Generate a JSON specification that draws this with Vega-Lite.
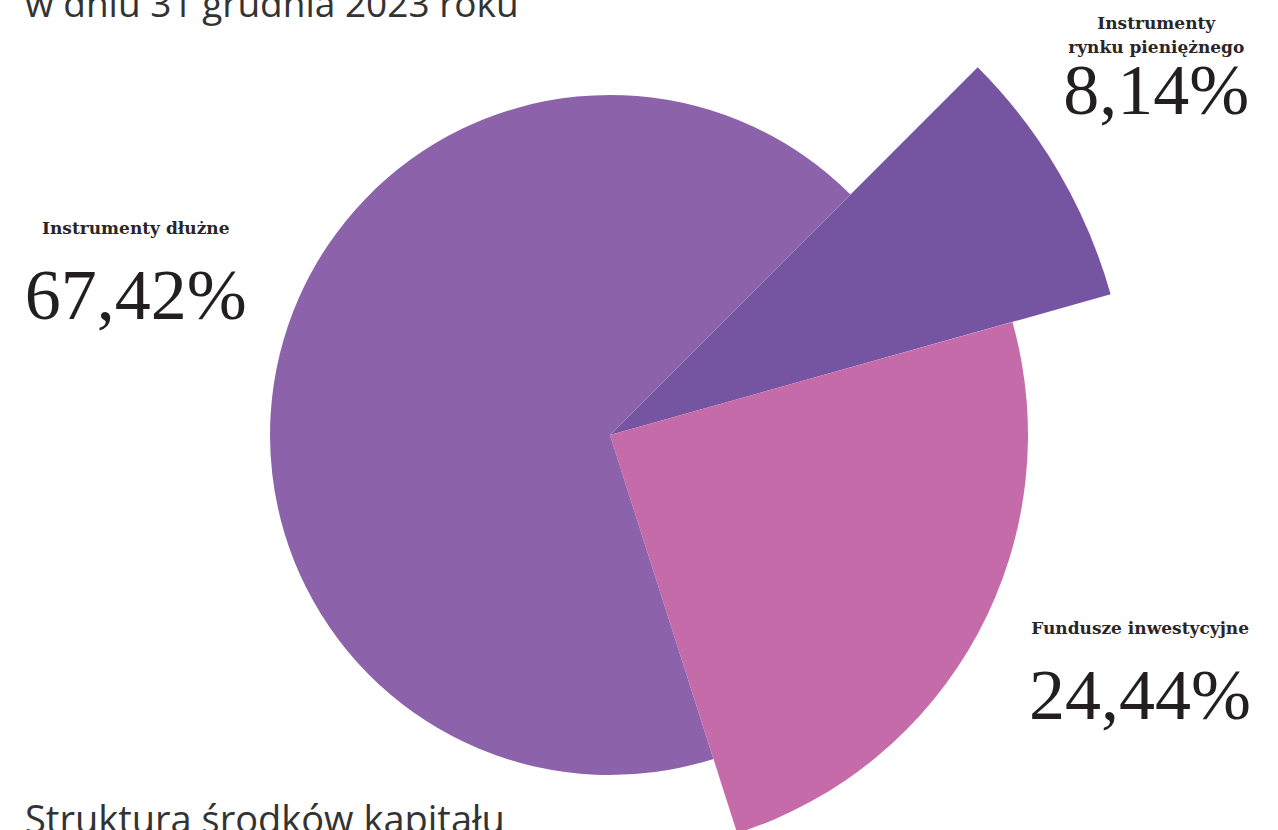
{
  "$schema": "https://vega.github.io/schema/vega-lite/v6.json",
  "width": 1220,
  "height": 870,
  "autosize": {"type": "none"},
  "padding": {"left": 0, "top": 0, "right": 58, "bottom": 0},
  "background": "#ffffff",
  "title": {
    "text": "w dniu 31 grudnia 2023 roku",
    "subtitle": "Struktura środków kapitału",
    "anchor": "start",
    "orient": "top",
    "dx": 25,
    "offset": -842,
    "font": "Open Sans",
    "fontSize": 37,
    "fontWeight": "normal",
    "color": "#333333",
    "subtitleFont": "Open Sans",
    "subtitleFontSize": 38,
    "subtitleColor": "#333333",
    "subtitlePadding": 778
  },
  "data": {
    "values": [
      {"category": "Instrumenty\nrynku pieniężnego", "value": 8.14, "label": "8,14%"},
      {"category": "Fundusze inwestycyjne", "value": 24.44, "label": "24,44%"},
      {"category": "Instrumenty dłużne", "value": 67.42, "label": "67,42%"}
    ]
  },
  "encoding": {
    "theta": {"field": "value", "type": "quantitative", "stack": true, "scale": {"range": [0.7854, 7.0686]}},
    "order": {"field": "value", "type": "quantitative", "sort": "ascending"}
  },
  "layer": [
    {
      "mark": {"type": "arc", "stroke": null},
      "encoding": {
        "radius": {"field": "value", "type": "quantitative", "scale": {"type": "linear", "domain": [0, 8.14, 24.44, 67.42], "range": [0, 520, 418, 340], "zero": true, "nice": false}},
        "color": {"field": "category", "type": "nominal", "scale": {"domain": ["Instrumenty\nrynku pieniężnego", "Fundusze inwestycyjne", "Instrumenty dłużne"], "range": ["#7554A2", "#C56BA9", "#8C63AA"]}, "legend": null}
      }
    },
    {
      "mark": {"type": "text", "font": "Liberation Serif", "fontSize": 72, "align": "center", "baseline": "alphabetic", "dy": -1, "color": "#231F20"},
      "encoding": {
        "radius": {"field": "value", "type": "quantitative", "scale": {"type": "linear", "domain": [8.14, 24.44, 67.42], "range": [633, 602, 488], "zero": false, "nice": false}},
        "text": {"field": "label", "type": "nominal"}
      }
    },
    {
      "mark": {"type": "text", "font": "DejaVu Serif", "fontSize": 17, "fontWeight": "bold", "align": "center", "baseline": "bottom", "dy": -82, "lineBreak": "\n", "lineHeight": 24, "color": "#2A2627"},
      "encoding": {
        "radius": {"field": "value", "type": "quantitative", "scale": {"type": "linear", "domain": [8.14, 24.44, 67.42], "range": [633, 602, 488], "zero": false, "nice": false}},
        "text": {"field": "category", "type": "nominal"}
      }
    }
  ],
  "resolve": {"scale": {"radius": "independent"}},
  "config": {"view": {"stroke": null}}
}
